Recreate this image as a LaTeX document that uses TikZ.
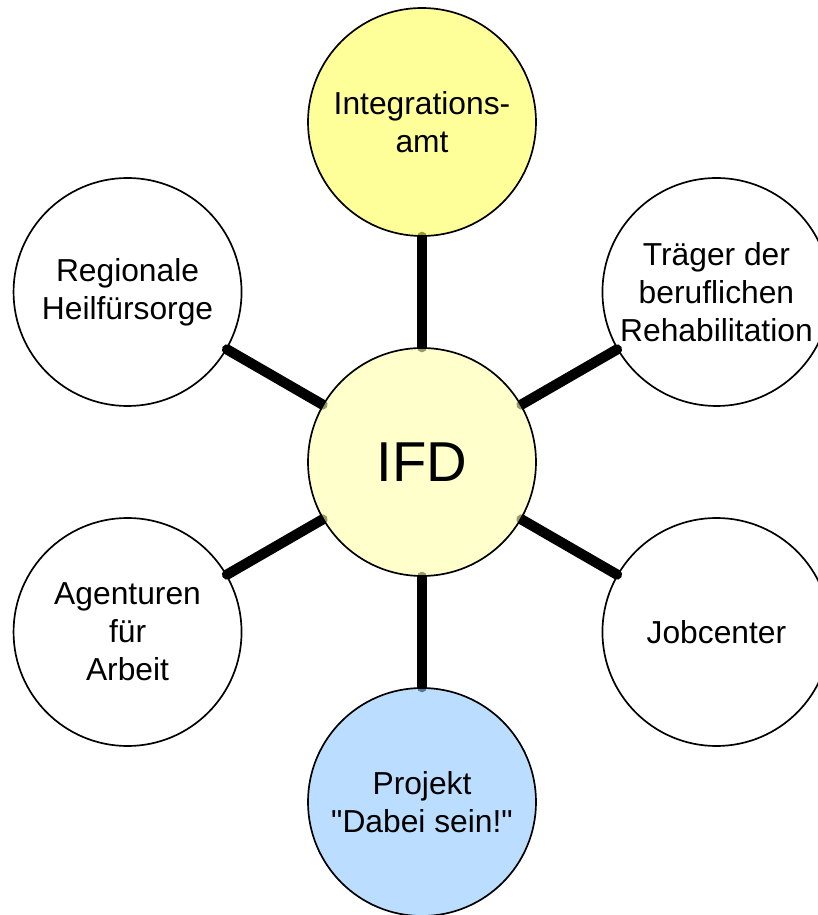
\documentclass[tikz,border=0pt]{standalone}
\usepackage{fontspec}
\setmainfont{Liberation Sans}[Ligatures=TeXOff]
\usetikzlibrary{backgrounds}
\definecolor{ifdgelb}{HTML}{FFFFAA}
\definecolor{amtgelb}{HTML}{FFFF55}
\definecolor{projektblau}{HTML}{8EC6FF}

\begin{document}
\begin{tikzpicture}[x=1cm,y=1cm,font=\fontsize{22.6}{27}\selectfont,
 stelle/.style={circle,draw,line width=1.2pt,minimum size=5.7cm,inner sep=0pt,align=center},
 farbig/.style={fill=#1,fill opacity=.6,text opacity=1},
 band/.style={line width=7.3pt,line cap=round}]
\useasboundingbox (-10.55,-11.325) rectangle (9.9,11.55);
% Mitte
\node[stelle,farbig=ifdgelb,font=\fontsize{40}{46}\selectfont] (ifd) at (0,0){IFD};
% Partner rundherum
\node[stelle,farbig=amtgelb] (amt) at (90:8.5){Integrations-\\amt};
\node[stelle] (traeger) at (30:8.5){Träger der\\beruflichen\\Rehabilitation};
\node[stelle] (job) at (-30:8.5){Jobcenter};
\node[stelle,farbig=projektblau] (projekt) at (-90:8.5){Projekt\\"Dabei sein!"};
\node[stelle] (agentur) at (210:8.5){Agenturen\\für\\Arbeit};
\node[stelle] (heil) at (150:8.5){Regionale\\Heilfürsorge};
\begin{pgfonlayer}{background}
\foreach \p in {amt,traeger,job,projekt,agentur,heil}{
 \draw[band] (ifd)--(\p);
}
\end{pgfonlayer}
\end{tikzpicture}
\end{document}
